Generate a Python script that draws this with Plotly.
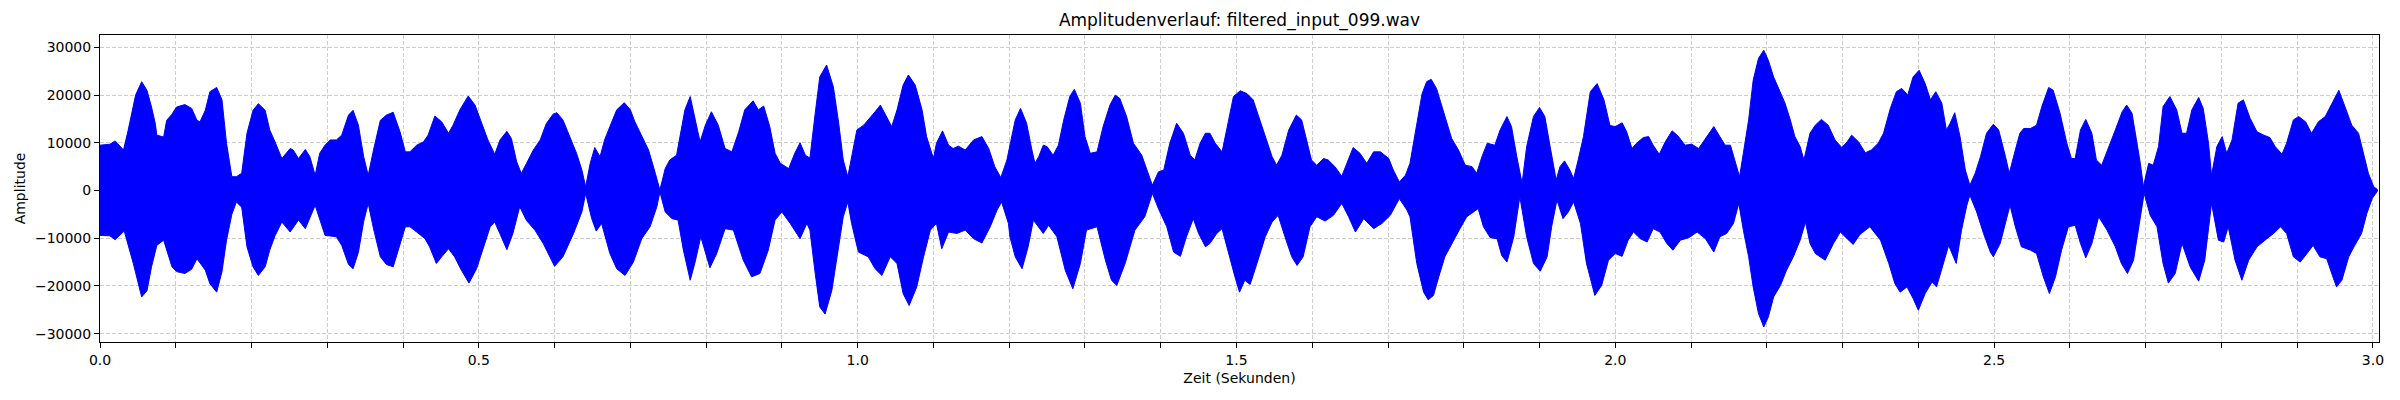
import plotly.graph_objects as go

# Envelope of the waveform (seconds, amplitude)
upper_t = [0.000, 0.013, 0.020, 0.031, 0.037, 0.042, 0.047, 0.055, 0.062, 0.068, 0.073, 0.075, 0.084,
           0.088, 0.095, 0.101, 0.112, 0.121, 0.128, 0.132, 0.139, 0.145, 0.154, 0.161, 0.167, 0.174,
           0.180, 0.187, 0.194, 0.202, 0.209, 0.218, 0.224, 0.231, 0.240, 0.251, 0.255, 0.262, 0.271,
           0.277, 0.284, 0.290, 0.297, 0.304, 0.312, 0.319, 0.328, 0.334, 0.341, 0.348, 0.354, 0.361,
           0.370, 0.378, 0.387, 0.396, 0.403,
           0.409, 0.418, 0.427, 0.433, 0.442, 0.451, 0.460, 0.466, 0.475, 0.486, 0.495, 0.504, 0.512,
           0.521, 0.528, 0.537, 0.543, 0.550, 0.556, 0.563, 0.572, 0.581, 0.589, 0.598, 0.603, 0.611,
           0.620, 0.629, 0.636, 0.641, 0.647, 0.653, 0.660, 0.666,
           0.673, 0.682, 0.692, 0.700, 0.706, 0.715, 0.724, 0.733, 0.739, 0.746, 0.752, 0.761, 0.766,
           0.772, 0.779, 0.785, 0.792, 0.799, 0.807, 0.816, 0.825, 0.834, 0.843, 0.851, 0.862, 0.869,
           0.876, 0.884, 0.891, 0.898, 0.909, 0.917, 0.924, 0.931,
           0.937, 0.944, 0.950, 0.959, 0.968, 0.975, 0.981, 0.987, 0.992, 0.999, 1.008, 1.016, 1.023,
           1.030, 1.038, 1.045, 1.052, 1.060, 1.067, 1.076, 1.085, 1.091, 1.100, 1.104, 1.112, 1.120,
           1.126, 1.133, 1.142, 1.153, 1.164, 1.173, 1.181, 1.189, 1.197,
           1.201, 1.208, 1.215, 1.223, 1.230, 1.234, 1.239, 1.245, 1.250, 1.258, 1.265, 1.272, 1.280,
           1.286, 1.294, 1.300, 1.307, 1.316, 1.324, 1.333, 1.340, 1.346, 1.355, 1.364, 1.375, 1.382,
           1.389, 1.397, 1.404, 1.412, 1.421, 1.430, 1.439, 1.445, 1.452, 1.459,
           1.465, 1.472, 1.481, 1.487, 1.496, 1.505, 1.514, 1.522, 1.531, 1.540, 1.547, 1.553, 1.560,
           1.569, 1.579, 1.586, 1.593, 1.599, 1.606, 1.615, 1.621, 1.630, 1.639, 1.645, 1.654, 1.663,
           1.672, 1.681, 1.690, 1.701, 1.707, 1.715, 1.723,
           1.729, 1.736, 1.745, 1.751, 1.757, 1.764, 1.771, 1.778, 1.784, 1.793, 1.802, 1.811, 1.817,
           1.824, 1.831, 1.841, 1.848, 1.857, 1.863, 1.870, 1.877, 1.883, 1.892, 1.900, 1.907, 1.914,
           1.922, 1.927, 1.933, 1.940, 1.945, 1.951, 1.958, 1.967, 1.976, 1.985,
           1.993, 2.000, 2.009, 2.015, 2.022, 2.028, 2.037, 2.044, 2.050, 2.058, 2.066, 2.075, 2.083,
           2.092, 2.101, 2.110, 2.121, 2.130, 2.138, 2.145, 2.152, 2.158, 2.164, 2.169, 2.176, 2.182,
           2.189, 2.196, 2.202, 2.209, 2.218, 2.224, 2.231, 2.237, 2.244, 2.249,
           2.257, 2.264, 2.272, 2.281, 2.290, 2.299, 2.306, 2.312, 2.321, 2.330, 2.338, 2.347, 2.354,
           2.363, 2.371, 2.378, 2.386, 2.393, 2.401, 2.409, 2.416, 2.423, 2.431, 2.437, 2.442, 2.448,
           2.455, 2.462, 2.468, 2.475, 2.482, 2.490, 2.499, 2.506,
           2.515, 2.520, 2.528, 2.534, 2.539, 2.548, 2.556, 2.563, 2.572, 2.578, 2.587, 2.596, 2.602,
           2.607, 2.614, 2.621, 2.629, 2.635, 2.642, 2.651, 2.660, 2.669, 2.675, 2.682, 2.688, 2.693,
           2.697, 2.704, 2.710, 2.717, 2.723, 2.732, 2.741, 2.748, 2.754, 2.761, 2.770, 2.776, 2.783,
           2.787, 2.794, 2.801, 2.807, 2.814, 2.822, 2.829, 2.838, 2.847, 2.856, 2.864, 2.871, 2.880,
           2.886, 2.895, 2.902, 2.911, 2.919, 2.928, 2.937, 2.944, 2.955, 2.963, 2.972, 2.981, 2.987,
           2.994, 3.001, 3.006]
upper_v = [9500, 9700, 10400, 8500, 12500, 16000, 20000, 22800, 21000, 17500, 14000, 11600, 11200,
           14700, 16000, 17500, 18000, 17200, 14700, 14400, 16800, 20700, 21600, 19000, 9900, 2900,
           2900, 3600, 12000, 16800, 18200, 16800, 12700, 10200, 6700, 8800, 8500, 6700, 8600,
           7100, 3200, 7800, 9500, 10600, 10600, 11600, 15800, 16800, 13700, 7100, 3200, 8500,
           14700, 15800, 16400, 12300, 8100,
           8100, 9500, 10200, 11600, 15600, 14400, 12000, 13700, 16900, 19800, 17900, 14000, 10600,
           7600, 10600, 12400, 10900, 6000, 3600, 5700, 8500, 10600, 14000, 16000, 16300, 14800,
           11300, 7800, 4300, 800, 5700, 9000, 7100, 10600,
           13400, 16900, 18400, 16900, 14400, 11300, 8500, 3600, 100, 4600, 6400, 7400, 12000,
           16900, 19700, 15500, 10200, 13700, 16500, 13700, 8800, 8100, 12300, 16900, 18800, 16900,
           17700, 13400, 7800, 5700, 4600, 7800, 10000, 7400,
           6800, 16200, 23800, 26300, 21700, 14100, 6400, 2900, 7100, 12700, 13700, 15100, 16500,
           17900, 15500, 13400, 16900, 22100, 24200, 22100, 16900, 11300, 6700, 9900, 12500, 9500,
           8800, 9300, 8500, 10600, 11300, 8800, 5000, 2700, 6400,
           9200, 14800, 17200, 14100, 8500, 5700, 7100, 9500, 9200, 7400, 9500, 14800, 19700,
           21200, 18300, 11300, 7800, 8100, 13400, 17900, 20000, 19300, 15500, 9900, 7400, 4300,
           1100, 3900, 4300, 9900, 14100, 12000, 7400, 6400, 9900, 12000,
           12000, 9900, 8100, 12700, 19700, 20900, 20300, 19000, 14800, 10200, 7100, 5300, 7400,
           12700, 15800, 14800, 10600, 6400, 5300, 6700, 6400, 5000, 3000, 5300, 9000, 7800,
           5700, 8100, 8100, 6700, 4300, 1800, 3200,
           5700, 12000, 20300, 22800, 23300, 21400, 17600, 14100, 10900, 8500, 5300, 5000, 3600,
           7100, 9900, 9500, 12700, 15500, 13400, 7100, 1500, 9200, 15500, 17400, 15500, 9200,
           2200, 5000, 6200, 4300, 2500, 6400, 11300, 20700, 22400, 19000,
           13600, 13400, 14200, 12300, 8800, 9900, 11100, 11300, 9500, 7600, 10200, 12500, 11400,
           9500, 9700, 8800, 11400, 13400, 11300, 9500, 9500, 6400, 2900, 7800, 14800, 23100,
           27700, 29400, 27300, 23800, 20300, 18300, 14800, 11300, 9200, 6400,
           12000, 13700, 14900, 13700, 10600, 9000, 10200, 11600, 10200, 7900, 8500, 9900, 12000,
           17200, 20700, 21400, 20000, 23800, 25200, 22400, 19000, 20700, 18300, 12700, 14100, 16300,
           11300, 4300, 1100, 3600, 7100, 12000, 13900, 12700,
           7100, 3600, 8500, 12000, 13000, 13000, 13700, 17600, 21600, 21000, 16200, 9900, 6700,
           6700, 12700, 14900, 12000, 6400, 5300, 8800, 12700, 16500, 17900, 16200, 10600, 5700,
           800, 5700, 5300, 9200, 17600, 19700, 16900, 12000, 12000, 16900, 19500, 17200, 9900,
           3200, 9200, 11300, 7800, 10600, 18300, 19000, 15100, 12300, 11600, 11100, 9200, 7600,
           9900, 14800, 15500, 14400, 12000, 14400, 15500, 17600, 21000, 17600, 13700, 12000, 7800,
           3600, 800, 200]

lower_t = [0.000, 0.013, 0.020, 0.032, 0.044, 0.055, 0.062, 0.068, 0.075, 0.084, 0.095, 0.101,
           0.112, 0.121, 0.128, 0.139, 0.145, 0.154, 0.161, 0.167, 0.174, 0.180, 0.187, 0.194,
           0.202, 0.209, 0.218, 0.224, 0.231, 0.240, 0.251, 0.262, 0.271, 0.284, 0.297, 0.312,
           0.319, 0.328, 0.334, 0.341, 0.348, 0.354, 0.361, 0.370, 0.378, 0.387, 0.396, 0.403,
           0.409, 0.418, 0.429, 0.435, 0.444, 0.451, 0.460, 0.468, 0.477, 0.487, 0.497, 0.506,
           0.515, 0.521, 0.528, 0.537, 0.545, 0.554, 0.563, 0.574, 0.585, 0.600, 0.611, 0.625,
           0.636, 0.641, 0.649, 0.655, 0.662,
           0.673, 0.682, 0.693, 0.704, 0.715, 0.726, 0.735, 0.739, 0.746, 0.755, 0.763, 0.770,
           0.779, 0.785, 0.793, 0.805, 0.814, 0.825, 0.836, 0.849, 0.860, 0.871, 0.882, 0.891,
           0.900, 0.911, 0.924, 0.933,
           0.937, 0.944, 0.950, 0.957, 0.966, 0.975, 0.981, 0.987, 0.992, 1.001, 1.014, 1.023,
           1.032, 1.043, 1.052, 1.060, 1.068, 1.078, 1.087, 1.096, 1.104, 1.111, 1.120, 1.131,
           1.142, 1.153, 1.164, 1.175, 1.184, 1.190, 1.199,
           1.201, 1.208, 1.217, 1.225, 1.232, 1.239, 1.245, 1.252, 1.263, 1.274, 1.284, 1.294,
           1.302, 1.316, 1.327, 1.335, 1.342, 1.353, 1.366, 1.379, 1.389, 1.397, 1.408, 1.417,
           1.426, 1.434, 1.443, 1.450, 1.459, 1.465,
           1.474, 1.481, 1.489, 1.498, 1.504, 1.511, 1.518, 1.527, 1.538, 1.547, 1.555, 1.564,
           1.573, 1.580, 1.588, 1.597, 1.606, 1.617, 1.628, 1.639, 1.648, 1.657, 1.668, 1.681,
           1.692, 1.703, 1.715, 1.725,
           1.729, 1.738, 1.747, 1.753, 1.760, 1.767, 1.775, 1.784, 1.795, 1.804, 1.813, 1.819,
           1.826, 1.835, 1.844, 1.850, 1.857, 1.866, 1.874, 1.883, 1.892, 1.901, 1.910, 1.916,
           1.923, 1.931, 1.938, 1.945, 1.954, 1.962, 1.973, 1.982, 1.991,
           2.000, 2.009, 2.017, 2.024, 2.033, 2.042, 2.050, 2.059, 2.068, 2.076, 2.086, 2.097,
           2.108, 2.119, 2.130, 2.138, 2.147, 2.156, 2.163, 2.169, 2.176, 2.182, 2.189, 2.196,
           2.202, 2.209, 2.218, 2.226, 2.235, 2.244, 2.251,
           2.257, 2.264, 2.277, 2.288, 2.297, 2.306, 2.314, 2.323, 2.336, 2.350, 2.361, 2.369,
           2.376, 2.385, 2.393, 2.400, 2.409, 2.418, 2.424, 2.433, 2.440, 2.450, 2.457, 2.464,
           2.468, 2.477, 2.486, 2.495, 2.499, 2.508, 2.517,
           2.521, 2.528, 2.536, 2.548, 2.556, 2.565, 2.573, 2.581, 2.589, 2.598, 2.607, 2.614,
           2.621, 2.629, 2.638, 2.649, 2.660, 2.668, 2.676, 2.684, 2.690, 2.698, 2.706, 2.715,
           2.723, 2.730, 2.739, 2.748, 2.759, 2.770, 2.778, 2.787, 2.796, 2.803, 2.809, 2.818,
           2.827, 2.836, 2.847, 2.860, 2.869, 2.878, 2.886, 2.895, 2.904, 2.913, 2.921, 2.930,
           2.939, 2.948, 2.952, 2.959, 2.968, 2.976, 2.985, 2.992, 2.999, 3.006]
lower_v = [-9400, -9500, -10300, -8500, -15300, -22300, -21000, -16000, -11500, -10400, -16000, -17000,
           -17400, -16500, -14300, -16700, -19500, -21300, -17000, -10400, -5000, -2400, -3500, -11800,
           -16000, -17800, -16000, -12500, -9500, -6600, -8700, -6200, -8000, -3100, -9400, -9700,
           -11500, -15500, -16400, -13000, -6500, -2700, -8000, -13900, -15500, -16000, -11500, -7600,
           -7600, -8700, -10100, -11800, -15300, -13900, -12200, -13900, -16700, -19400, -16400, -11800,
           -7600, -6600, -9100, -12400, -9000, -3400, -6300, -8300, -11100, -15900, -13900, -9000,
           -4500, -600, -5900, -8500, -6900,
           -13200, -16400, -17800, -15000, -10100, -7600, -3400, -300, -4500, -5900, -6200, -12500,
           -18800, -15300, -9700, -16200, -13200, -8000, -8300, -14600, -18100, -17400, -12500, -6200,
           -4500, -6900, -10100, -6900,
           -8300, -17400, -24400, -25900, -20900, -11800, -5500, -2400, -6900, -12900, -13900, -16400,
           -17800, -13900, -15300, -21600, -24100, -20200, -13900, -8300, -6900, -12200, -8700, -9000,
           -8300, -10100, -11000, -7600, -4100, -2400, -6900,
           -9700, -13900, -16400, -11800, -6200, -7600, -9000, -7300, -9700, -16700, -20600, -15300,
           -8300, -7600, -14600, -18800, -19900, -15300, -8300, -5500, -600, -3800, -7600, -12900,
           -13800, -9700, -5900, -9000, -11800, -11100,
           -9000, -8000, -12500, -18100, -21300, -18800, -19700, -15300, -9700, -6600, -5200, -9700,
           -13900, -15700, -13900, -7600, -5500, -6400, -5200, -2700, -5500, -8700, -5900, -8000,
           -6900, -5200, -1700, -4100,
           -5500, -15300, -21300, -22900, -22000, -18100, -13900, -11100, -8000, -5500, -4500, -3800,
           -7600, -9900, -10100, -13600, -15000, -9700, -1300, -9700, -15300, -16900, -13900, -7600,
           -2000, -5900, -4500, -2400, -6900, -15300, -22000, -19900, -14600,
           -13200, -13800, -10400, -8700, -10100, -10800, -8000, -8700, -11100, -12500, -10400, -9900,
           -8700, -10100, -12900, -9700, -9000, -6900, -2700, -8300, -13900, -20200, -25800, -28600,
           -26500, -22300, -19900, -16700, -13900, -10400, -6600,
           -11100, -13200, -14600, -11100, -8700, -10100, -11300, -9200, -7600, -10400, -15300, -19500,
           -21300, -20200, -22600, -25100, -21600, -19200, -20200, -15300, -11500, -15300, -8300, -3100,
           -1000, -4500, -9000, -12900, -13900, -11100, -5500,
           -3100, -7600, -11800, -12500, -13200, -18100, -21600, -18100, -12500, -7600, -7300, -11100,
           -14100, -11100, -5500, -8300, -11800, -15300, -17400, -14600, -9000, -600, -5200, -7600,
           -15300, -19400, -17400, -11100, -16100, -19000, -14600, -2700, -10400, -10800, -7600, -14600,
           -18800, -14600, -11800, -10100, -9000, -7600, -9000, -13900, -15000, -13200, -11500, -13900,
           -14300, -18500, -20200, -18800, -13900, -11500, -9000, -4800, -1700, -100]

x_tick_vals = [0.0, 0.5, 1.0, 1.5, 2.0, 2.5, 3.0]
x_tick_text = ["0.0", "0.5", "1.0", "1.5", "2.0", "2.5", "3.0"]
y_tick_vals = [-30000, -20000, -10000, 0, 10000, 20000, 30000]
y_tick_text = ["\u221230000", "\u221220000", "\u221210000", "0", "10000", "20000", "30000"]

title_text = "Amplitudenverlauf: filtered_input_099.wav"
x_title = "Zeit (Sekunden)"
y_title = "Amplitude"

poly_x = upper_t + lower_t[::-1]
poly_y = upper_v + lower_v[::-1]

fig = go.Figure()
fig.add_trace(go.Scatter(
    x=poly_x, y=poly_y, mode="lines", fill="toself",
    fillcolor="#0000ff", line=dict(color="#0000ff", width=1),
    hoverinfo="skip", showlegend=False,
))

grid_color = "#cccccc"
font_family = "DejaVu Sans, Liberation Sans, sans-serif"

fig.update_layout(
    width=2400, height=400,
    margin=dict(l=100, r=21, t=35, b=58, autoexpand=False),
    paper_bgcolor="white", plot_bgcolor="white",
    font=dict(family=font_family, size=14, color="black"),
    showlegend=False,
    title=dict(text=title_text, x=0.5, xref="paper", xanchor="center",
               y=1 - 20 / 400, yanchor="middle",
               font=dict(family=font_family, size=17, color="black")),
)
fig.update_xaxes(
    range=[0, 3.008], automargin=False,
    tickmode="array", tickvals=x_tick_vals, ticktext=x_tick_text,
    ticks="outside", ticklen=5, tickwidth=1, tickcolor="black",
    tickfont=dict(size=14),
    showline=True, mirror=True, linecolor="black", linewidth=1,
    showgrid=True, gridcolor=grid_color, griddash="4px,2px", gridwidth=1,
    zeroline=False,
    minor=dict(dtick=0.1, tick0=0, ticks="outside", ticklen=5, tickcolor="black",
               showgrid=True, gridcolor=grid_color, griddash="4px,2px", gridwidth=1),
    title=dict(text=x_title, font=dict(size=14), standoff=6),
)
fig.update_yaxes(
    range=[-31750, 32590], automargin=False,
    tickmode="array", tickvals=y_tick_vals, ticktext=y_tick_text,
    ticks="outside", ticklen=5, tickwidth=1, tickcolor="black",
    tickfont=dict(size=14),
    showline=True, mirror=True, linecolor="black", linewidth=1,
    showgrid=True, gridcolor=grid_color, griddash="4px,2px", gridwidth=1,
    zeroline=False,
    title=dict(text=y_title, font=dict(size=14), standoff=6),
)

fig.write_html("out.html", config={"displayModeBar": False},
               post_script="document.body.style.margin='0px';")
